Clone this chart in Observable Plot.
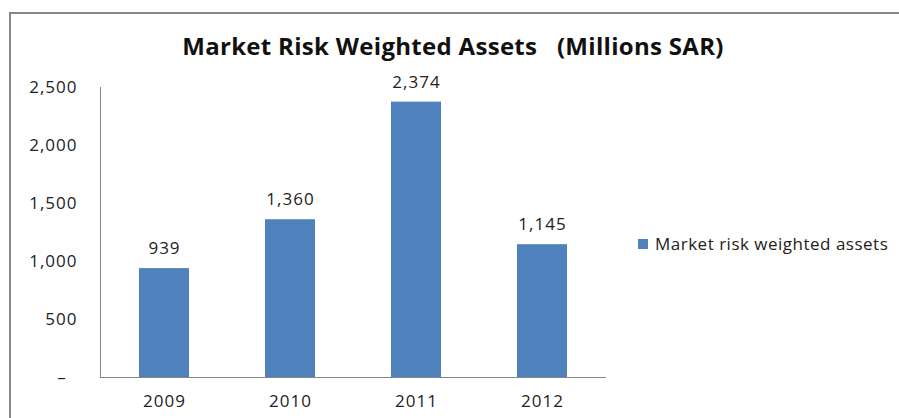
<!DOCTYPE html>
<html>
<head>
<meta charset="utf-8">
<script src="https://cdn.jsdelivr.net/npm/d3@7"></script>
<script src="https://cdn.jsdelivr.net/npm/@observablehq/plot@0.6"></script>
<style>
  html, body { margin: 0; padding: 0; background: #fff; }
  #wrap { position: relative; width: 899px; height: 418px; overflow: hidden; font-family: "Open Sans", sans-serif; }
  #border { position: absolute; left: 9px; top: 12px; width: 900px; height: 420px; border-top: 2px solid #878787; border-left: 2px solid #878787; }
  #title { position: absolute; left: 0; width: 906px; top: 29px; text-align: center; font-weight: bold; font-size: 24px; letter-spacing: 0.3px; color: #111; white-space: pre; }
  #legend { position: absolute; left: 638px; top: 232px; font-size: 17px; letter-spacing: 0.5px; color: #222; display: flex; align-items: center; white-space: nowrap; }
  #legend .sw { width: 10px; height: 10px; background: #4F81BD; margin-right: 7px; }
  #chart { position: absolute; left: 0; top: 0; }
  #chart text { letter-spacing: 1px; }
</style>
</head>
<body>
<div id="wrap">
  <div id="chart"></div>
  <div id="border"></div>
  <div id="title">Market Risk Weighted Assets   (Millions SAR)</div>
  <div id="legend"><div class="sw"></div><span>Market risk weighted assets</span></div>
</div>
<script>
const years = ["2009", "2010", "2011", "2012"];
const values = [939, 1360, 2374, 1145];
const yTicks = [0, 500, 1000, 1500, 2000, 2500];
const seriesName = "Market risk weighted assets";

const data = years.map((y, i) => ({year: y, value: values[i]}));
const fmt = d3.format(",");

const chart = Plot.plot({
  width: 899,
  height: 418,
  marginLeft: 100,
  marginRight: 293,
  marginTop: 87,
  marginBottom: 41,
  style: {fontFamily: "Open Sans, sans-serif", fontSize: "17px", color: "#222", background: "transparent"},
  x: {domain: years, paddingInner: 0.605, paddingOuter: 0.3025, label: null},
  y: {domain: [0, 2500], label: null},
  marks: [
    Plot.barY(data, {x: "year", y: "value", fill: "#4F81BD"}),
    Plot.text(data, {x: "year", y: "value", text: d => fmt(d.value), dy: -20, fontSize: 17, fill: "#222"}),
    Plot.frame({anchor: "left", stroke: "#868686"}),
    Plot.ruleY([0], {stroke: "#868686"}),
    Plot.axisY({ticks: yTicks, tickSize: 0, tickPadding: 23, tickFormat: d => d === 0 ? "\u2013\u00a0\u00a0" : fmt(d), label: null, fontSize: 17}),
    Plot.axisX({tickSize: 0, tickPadding: 17, label: null, fontSize: 17})
  ]
});
document.getElementById("chart").appendChild(chart);
</script>
</body>
</html>
